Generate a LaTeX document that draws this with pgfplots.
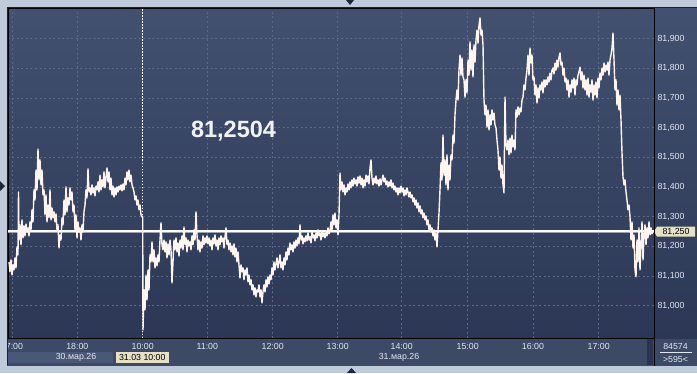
\documentclass[border=0pt]{standalone}
\usepackage{pgfplots}
\pgfplotsset{compat=1.18}
\usepackage{fontspec}
\setmainfont{Liberation Sans}
\definecolor{outerc}{HTML}{BFCBDA}
\definecolor{plottop}{HTML}{425170}
\definecolor{plotbot}{HTML}{2B3755}
\definecolor{labelc}{HTML}{3D4A66}
\definecolor{datec}{HTML}{4A5877}
\definecolor{gridc}{HTML}{5B6986}
\definecolor{linec}{HTML}{FFF4EE}
\definecolor{tickc}{HTML}{E2E8F2}
\definecolor{boxc}{HTML}{E6E1C3}
\definecolor{triac}{HTML}{1C2636}
\definecolor{scrollc}{HTML}{2A3450}
\definecolor{hlgrey}{HTML}{9AA3B5}
\definecolor{bigc}{HTML}{F2F2F2}
\definecolor{framec}{HTML}{1A2030}
\begin{document}
\begin{tikzpicture}[x=1pt,y=1pt]
\fill[outerc] (0,0) rectangle (697,373);
\fill[labelc] (7,7.3) rectangle (697,366);
\shade[top color=plottop, bottom color=plotbot] (8,35) rectangle (697,365);
\fill[datec] (8,9.7) rectangle (113,21.3);
\fill[boxc] (115.7,9.7) rectangle (169,21.3);
\node[text=black, font=\fontsize{8.8}{10}\selectfont] at (142.3,15.5) {31.03 10:00};
\node[text=tickc, font=\fontsize{8.8}{10}\selectfont] at (76,15.5) {30.мар.26};
\node[text=tickc, font=\fontsize{8.8}{10}\selectfont] at (399,15.5) {31.мар.26};
\fill[scrollc] (647,8) rectangle (653,35);
\begin{axis}[
  at={(8pt,35pt)}, anchor=south west, scale only axis,
  width=646pt, height=330pt,
  xmin=8, xmax=654, ymin=80.8905, ymax=82.0035,
  axis line style={draw=black, line width=0.8pt},
  major tick length=0pt,
  grid=major,
  major grid style={dash pattern=on 2pt off 2.5pt, color=gridc, line width=0.6pt},
  xtick={12,77.3,142.7,207.3,272.7,337.7,401.7,467.7,533,598.7},
  xticklabels={17:00,18:00,10:00,11:00,12:00,13:00,14:00,15:00,16:00,17:00},
  ytick={81,81.1,81.2,81.3,81.4,81.5,81.6,81.7,81.8,81.9},
  yticklabels={{81,000},{81,100},{81,200},{81,300},{81,400},{81,500},{81,600},{81,700},{81,800},{81,900}},
  yticklabel pos=right,
  ticklabel style={font=\fontsize{8.8}{10}\selectfont, text=tickc},
  xticklabel style={yshift=-2pt},
]
\addplot[draw=hlgrey, line width=3.4pt, forget plot] coordinates {(8,81.2504) (654,81.2504)};
\addplot[draw=white, line width=1.6pt, forget plot] coordinates {(8,81.2504) (654,81.2504)};
\draw[white, dash pattern=on 1.5pt off 1.5pt, line width=0.8pt] (axis cs:142.7,80.8905) -- (axis cs:142.7,82.0035);
\addplot[draw=linec, line width=1.4pt, line join=round, mark=none] coordinates {
(9,81.147)(10,81.114)(11,81.154)(12,81.103)(13,81.137)(14,81.120)(15,81.161)(16,81.127)(17,81.198)(18,81.171)(18.5,81.383)(19,81.221)(20,81.272)(21,81.205)(22,81.289)(23,81.228)(24,81.269)(25,81.235)(26,81.275)(27,81.248)(28,81.262)(29,81.235)(30,81.282)(31,81.255)(32,81.323)(33,81.282)(34,81.390)(35,81.356)(36,81.457)(37,81.390)(38,81.528)(39,81.424)(40,81.491)(41,81.407)(42,81.457)(43,81.373)(44,81.390)(45,81.306)(46,81.373)(47,81.282)(48,81.339)(49,81.296)(50,81.390)(51,81.289)(52,81.329)(53,81.296)(54,81.316)(55,81.282)(56,81.309)(57,81.255)(58,81.272)(59,81.194)(60,81.238)(61,81.221)(62,81.296)(63,81.272)(64,81.356)(65,81.306)(66,81.400)(67,81.316)(68,81.363)(69,81.339)(70,81.397)(71,81.356)(72,81.383)(73,81.316)(74,81.339)(75,81.255)(76,81.306)(77,81.228)(78,81.282)(79,81.248)(80,81.262)(81,81.221)(82,81.272)(83,81.248)(84,81.316)(85,81.339)(86,81.390)(87,81.363)(88,81.461)(89,81.383)(90,81.397)(91,81.373)(92,81.407)(93,81.380)(94,81.397)(95,81.370)(96,81.403)(97,81.390)(98,81.417)(99,81.383)(100,81.440)(101,81.390)(102,81.424)(103,81.400)(104,81.451)(105,81.397)(106,81.430)(107,81.464)(108,81.417)(109,81.451)(110,81.390)(111,81.430)(112,81.373)(113,81.403)(114,81.366)(115,81.397)(116,81.373)(117,81.400)(118,81.383)(119,81.403)(120,81.390)(121,81.407)(122,81.387)(123,81.410)(124,81.390)(125,81.430)(126,81.407)(127,81.451)(128,81.424)(129,81.457)(130,81.417)(131,81.440)(132,81.407)(133,81.397)(134,81.383)(135,81.356)(136,81.370)(137,81.339)(138,81.356)(139,81.323)(140,81.339)(141,81.306)
(142.7,81.296)(143,80.918)(144,81.053)(145,80.985)(146,81.103)(147,81.019)(148,81.120)(149,81.053)(150,81.171)(151,81.147)(152,81.215)(153,81.147)(154,81.188)(155,81.127)(156,81.161)(157,81.134)(158,81.171)(159,81.147)(160,81.221)(161,81.279)(162,81.205)(163,81.188)(164,81.221)(165,81.181)(166,81.215)(167,81.161)(168,81.208)(169,81.171)(170,81.221)(171,81.188)(172,81.076)(173,81.147)(174,81.221)(175,81.188)(176,81.228)(177,81.181)(178,81.211)(179,81.167)(180,81.221)(181,81.194)(182,81.235)(183,81.188)(184,81.265)(185,81.205)(186,81.228)(187,81.181)(188,81.221)(189,81.201)(190,81.215)(191,81.188)(192,81.235)(193,81.205)(194,81.255)(195,81.221)(196,81.316)(197,81.238)(198,81.188)(199,81.221)(200,81.181)(201,81.215)(202,81.194)(203,81.235)(204,81.205)(205,81.228)(206,81.211)(207,81.235)(208,81.208)(209,81.228)(210,81.201)(211,81.221)(212,81.188)(213,81.228)(214,81.208)(215,81.238)(216,81.201)(217,81.221)(218,81.188)(219,81.228)(220,81.205)(221,81.235)(222,81.215)(223,81.228)(224,81.194)(225,81.232)(226,81.262)(227,81.205)(228,81.221)(229,81.188)(230,81.211)(231,81.181)(232,81.201)(233,81.171)(234,81.208)(235,81.164)(236,81.194)(237,81.147)(238,81.181)(239,81.137)(240,81.093)(241,81.137)(242,81.114)(243,81.127)(244,81.087)(245,81.120)(246,81.103)(247,81.127)(248,81.080)(249,81.103)(250,81.070)(251,81.087)(252,81.053)(253,81.070)(254,81.036)(255,81.060)(256,81.029)(257,81.053)(258,81.046)(259,81.070)(260,81.029)(261,81.053)(262,81.009)(263,81.046)(264,81.070)(265,81.046)(266,81.087)(267,81.063)(268,81.097)(269,81.073)(270,81.103)(271,81.087)(272,81.127)(273,81.103)(274,81.147)(275,81.120)(276,81.141)(277,81.161)(278,81.127)(279,81.147)(280,81.171)(281,81.127)(282,81.147)(283,81.120)(284,81.161)(285,81.137)(286,81.181)(287,81.154)(288,81.194)(289,81.171)(290,81.211)(291,81.188)(292,81.205)(293,81.181)(294,81.215)(295,81.194)(296,81.221)(297,81.201)(298,81.228)(299,81.208)(300,81.272)(301,81.221)(302,81.235)(303,81.208)(304,81.228)(305,81.215)(306,81.235)(307,81.218)(308,81.245)(309,81.221)(310,81.232)(311,81.211)(312,81.248)(313,81.228)(314,81.238)(315,81.218)(316,81.245)(317,81.228)(318,81.255)(319,81.235)(320,81.245)(321,81.221)(322,81.252)(323,81.232)(324,81.245)(325,81.228)(326,81.248)(327,81.235)(328,81.262)(329,81.242)(330,81.252)(331,81.282)(332,81.255)(333,81.306)(334,81.272)(335,81.312)(336,81.262)(337,81.289)(338,81.238)(339,81.306)(340,81.447)(341,81.390)(342,81.417)(343,81.383)(344,81.407)(345,81.373)(346,81.397)(347,81.383)(348,81.410)(349,81.390)(350,81.417)(351,81.397)(352,81.424)(353,81.403)(354,81.430)(355,81.410)(356,81.424)(357,81.403)(358,81.434)(359,81.413)(360,81.437)(361,81.407)(362,81.430)(363,81.397)(364,81.424)(365,81.403)(366,81.440)(367,81.417)(368,81.437)(369,81.410)(370,81.464)(371,81.491)(372,81.430)(373,81.407)(374,81.430)(375,81.413)(376,81.437)(377,81.410)(378,81.424)(379,81.403)(380,81.427)(381,81.407)(382,81.424)(383,81.440)(384,81.417)(385,81.430)(386,81.407)(387,81.420)(388,81.400)(389,81.417)(390,81.403)(391,81.424)(392,81.397)(393,81.413)(394,81.390)(395,81.403)(396,81.383)(397,81.397)(398,81.373)(399,81.397)(400,81.380)(401,81.403)(402,81.383)(403,81.397)(404,81.370)(405,81.390)(406,81.373)(407,81.397)(408,81.383)(409,81.366)(410,81.383)(411,81.363)(412,81.373)(413,81.350)(414,81.363)(415,81.339)(416,81.356)(417,81.329)(418,81.346)(419,81.316)(420,81.336)(421,81.309)(422,81.323)(423,81.296)(424,81.312)(425,81.289)(426,81.302)(427,81.272)(428,81.289)(429,81.255)(430,81.272)(431,81.248)(432,81.262)(433,81.235)(434,81.255)(435,81.221)(436,81.245)(437,81.198)(438,81.255)(439,81.312)(440,81.390)(441,81.481)(442,81.424)(443,81.575)(444,81.440)(445,81.491)(446,81.407)(447,81.508)(448,81.390)(449,81.474)(450,81.424)(451,81.508)(452,81.491)(453,81.575)(454,81.548)(455,81.643)(456,81.693)(457,81.727)(458,81.693)(459,81.794)(460,81.845)(461,81.777)(462,81.835)(463,81.771)(464,81.761)(465,81.703)(466,81.761)(467,81.717)(468,81.828)(469,81.777)(470,81.889)(471,81.794)(472,81.862)(473,81.771)(474,81.879)(475,81.821)(476,81.895)(477,81.929)(478,81.885)(479,81.946)(480,81.970)(481,81.912)(482,81.929)(483,81.879)(484,81.693)(485,81.643)(486,81.676)(487,81.602)(488,81.660)(489,81.592)(490,81.643)(491,81.609)(492,81.660)(493,81.626)(494,81.649)(495,81.609)(496,81.599)(497,81.558)(498,81.525)(499,81.457)(500,81.501)(501,81.430)(502,81.474)(503,81.407)(504,81.380)(505,81.703)(506,81.542)(507,81.525)(508,81.558)(509,81.508)(510,81.565)(511,81.515)(512,81.575)(513,81.535)(514,81.558)(515,81.525)(516,81.660)(517,81.636)(518,81.670)(519,81.643)(520,81.666)(521,81.653)(522,81.693)(523,81.703)(524,81.744)(525,81.727)(526,81.767)(527,81.794)(528,81.845)(529,81.777)(530,81.868)(531,81.818)(532,81.845)(533,81.761)(534,81.771)(535,81.710)(536,81.744)(537,81.683)(538,81.734)(539,81.700)(540,81.744)(541,81.727)(542,81.754)(543,81.717)(544,81.761)(545,81.737)(546,81.761)(547,81.744)(548,81.771)(549,81.754)(550,81.784)(551,81.761)(552,81.794)(553,81.801)(554,81.781)(555,81.818)(556,81.794)(557,81.828)(558,81.804)(559,81.838)(560,81.852)(561,81.811)(562,81.821)(563,81.777)(564,81.801)(565,81.754)(566,81.767)(567,81.727)(568,81.761)(569,81.703)(570,81.744)(571,81.720)(572,81.761)(573,81.734)(574,81.767)(575,81.710)(576,81.761)(577,81.744)(578,81.777)(579,81.788)(580,81.804)(581,81.761)(582,81.788)(583,81.734)(584,81.777)(585,81.727)(586,81.761)(587,81.710)(588,81.767)(589,81.703)(590,81.744)(591,81.720)(592,81.761)(593,81.693)(594,81.744)(595,81.710)(596,81.754)(597,81.700)(598,81.767)(599,81.734)(600,81.784)(601,81.761)(602,81.801)(603,81.777)(604,81.818)(605,81.788)(606,81.811)(607,81.794)(608,81.821)(609,81.777)(610,81.828)(611,81.845)(612,81.868)(613,81.919)(614,81.828)(615,81.727)(616,81.761)(617,81.676)(618,81.727)(619,81.660)(620,81.710)(621,81.626)(622,81.515)(623,81.434)(624,81.407)(625,81.424)(626,81.383)(627,81.356)(628,81.323)(629,81.339)(630,81.299)(631,81.221)(632,81.282)(633,81.194)(634,81.238)(635,81.120)(636,81.097)(637,81.221)(638,81.147)(639,81.262)(640,81.120)(641,81.205)(642,81.282)(643,81.154)(644,81.238)(645,81.272)(646,81.205)(647,81.262)(648,81.228)(649,81.282)(650,81.238)(651,81.262)(652,81.242)(653,81.252)
};
\node[text=bigc, font=\fontsize{23.5}{24}\selectfont\bfseries] at (axis cs:233.5,81.589) {81,2504};
\end{axis}
% price marker on right axis
\fill[boxc] (654,141.5) -- (657,146.3) -- (695,146.3) -- (695,136.3) -- (657,136.3) -- cycle;
\node[text=black, font=\fontsize{8.8}{10}\selectfont] at (676,141.5) {81,250};
% right bottom box
\node[text=tickc, font=\fontsize{8.8}{10}\selectfont] at (675.5,27) {84574};
\draw[tickc, line width=0.5pt] (660,20.3) -- (692,20.3);
\node[text=tickc, font=\fontsize{8.8}{10}\selectfont] at (675.5,13.5) {>595<};
\draw[black, line width=0.8pt] (654.3,7.5) -- (654.3,365);
% outer strips
\fill[outerc] (0,0) rectangle (7,373);
\fill[outerc] (0,366) rectangle (697,373);
\fill[outerc] (0,0) rectangle (697,7.3);
\draw[framec, line width=0.8pt] (7.5,7.6) -- (7.5,365.6) -- (697,365.6);
\fill[triac] (346,373) -- (354,373) -- (350,368) -- cycle;
\fill[triac] (347,0) -- (356,0) -- (351.5,5) -- cycle;
\fill[triac] (0,182) -- (0,192) -- (5,187) -- cycle;
\pgfresetboundingbox
\path[use as bounding box] (0,0) rectangle (697,373);
\end{tikzpicture}
\end{document}
